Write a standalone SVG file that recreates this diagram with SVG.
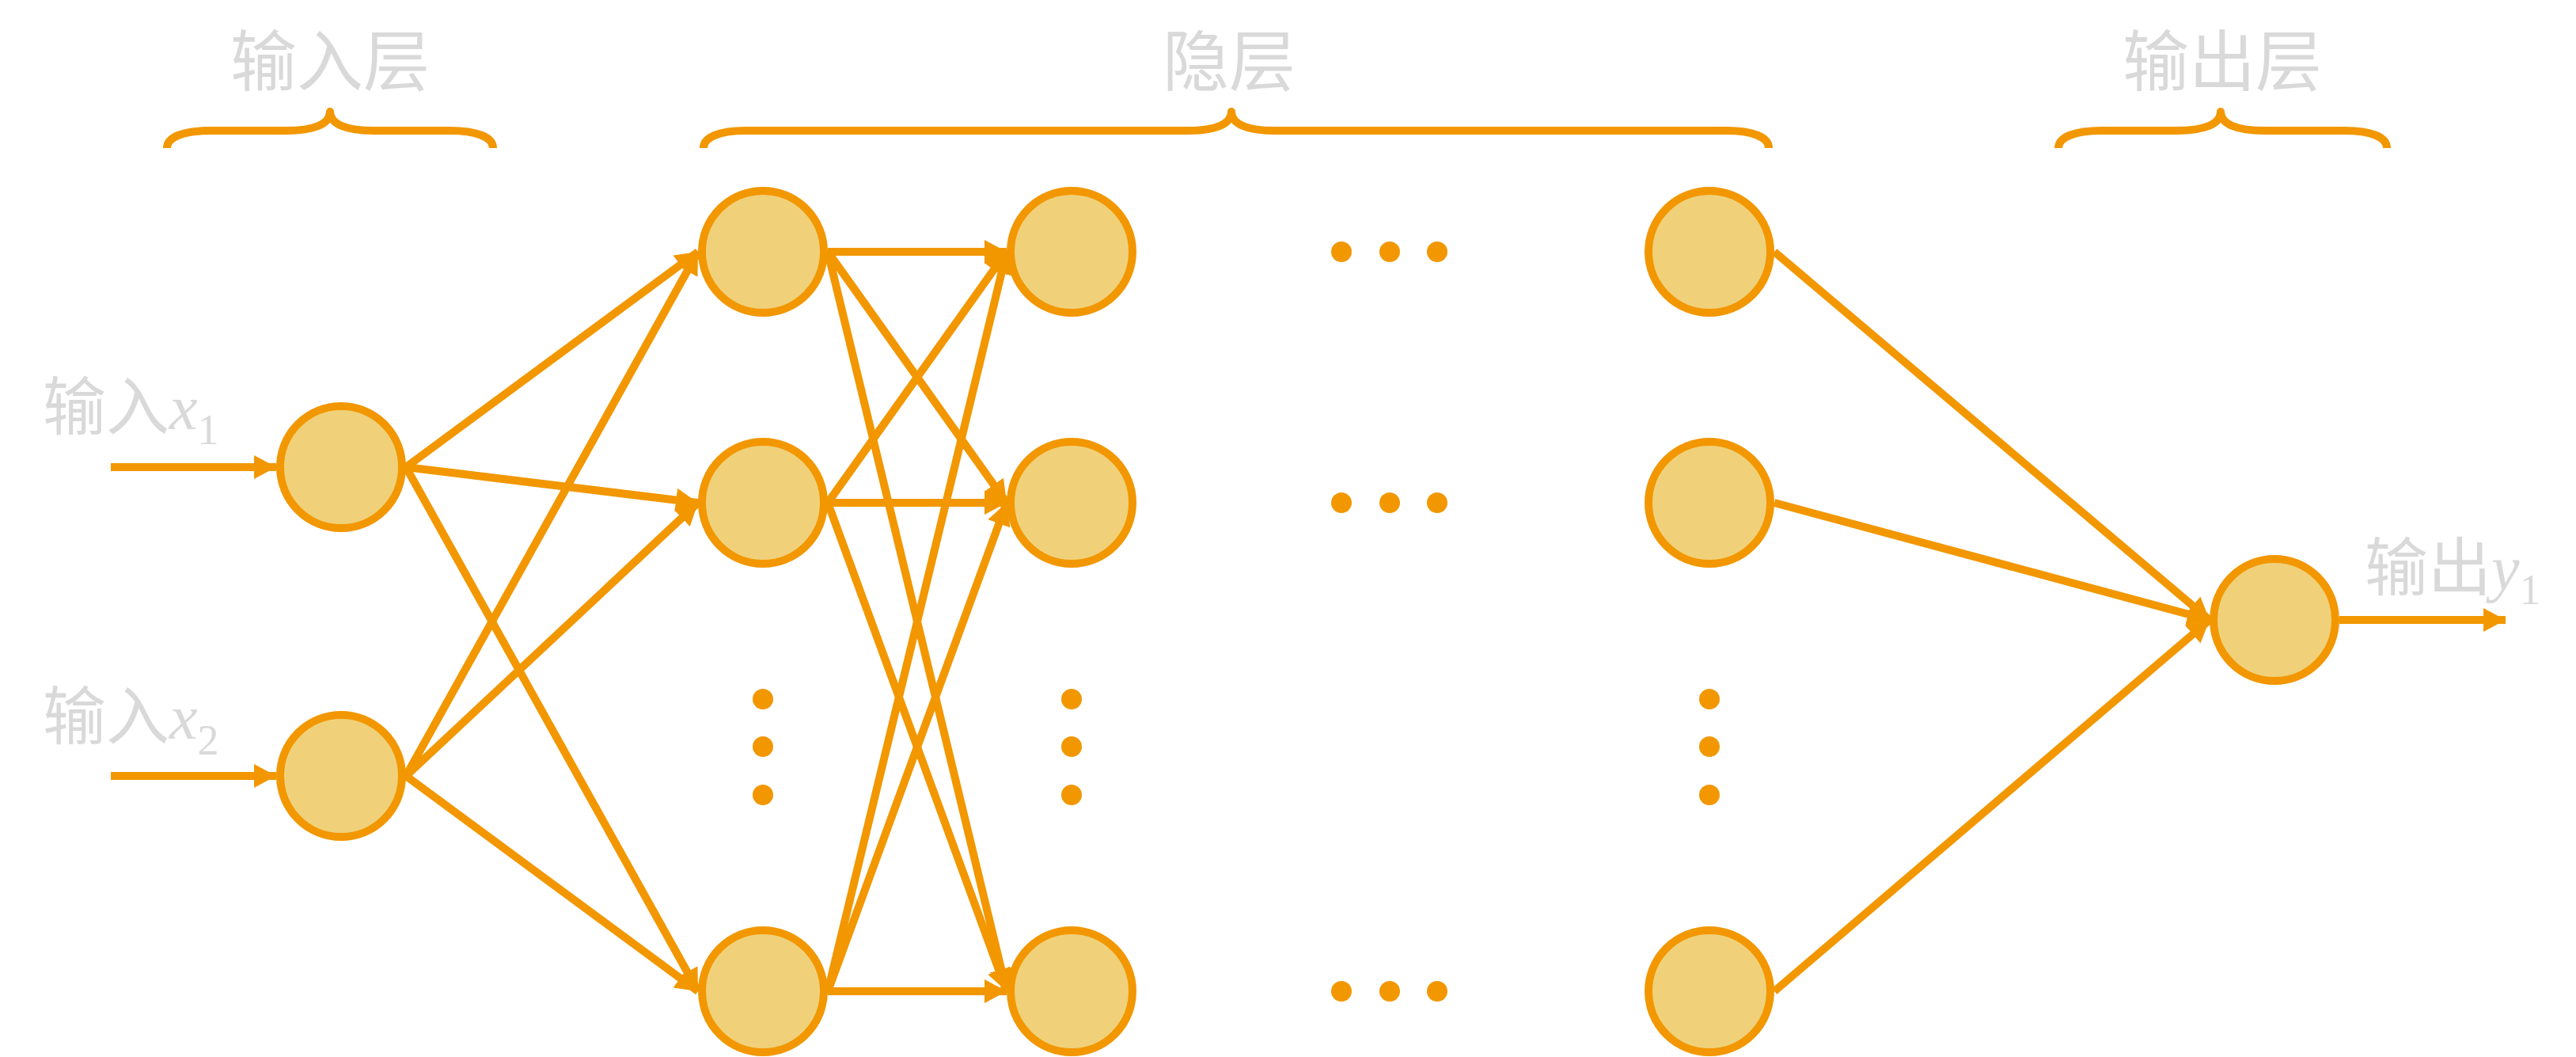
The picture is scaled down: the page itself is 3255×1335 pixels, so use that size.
<svg xmlns="http://www.w3.org/2000/svg" width="3255" height="1335" viewBox="0 0 3255 1335">
<style>
.node{fill:#F0D17A;stroke:#F29700;stroke-width:10}
.dot{fill:#F29700}
.edge{stroke:#F29700;stroke-width:10;fill:none;marker-end:url(#arr)}
.brace{stroke:#F29700;stroke-width:10;fill:none;stroke-linejoin:round}
.head{font-family:"Noto Sans CJK SC",sans-serif;font-size:84px;fill:#D9D9D9;text-anchor:middle}
.lbl{font-family:"Liberation Serif","Noto Sans CJK SC",serif;font-size:80px;fill:#D9D9D9}
.it{font-style:italic}
.sub{font-size:54px}
</style>
<defs>
<marker id="arr" markerUnits="userSpaceOnUse" viewBox="0 0 28 30" refX="28" refY="15" markerWidth="28" markerHeight="30" orient="auto">
<path d="M0,0 L28,15 L0,30 z" fill="#F29700"/>
</marker>
</defs>
<rect width="3255" height="1335" fill="#FFFFFF"/>

<g id="headers">
<text class="head" x="417" y="108">输入层</text>
<text class="head" x="1553" y="108">隐层</text>
<text class="head" x="2808" y="108">输出层</text>
</g>

<g id="braces">
<path class="brace" d="M211,187 C211,173 232,165 266,165 L362,165 C396,165 417,157 417,141 C417,157 438,165 472,165 L568,165 C602,165 623,173 623,187"/>
<path class="brace" d="M889,187 C889,173 910,165 942,165 L1502,165 C1535,165 1556,157 1556,141 C1556,157 1577,165 1609,165 L2182,165 C2214,165 2235,173 2235,187"/>
<path class="brace" d="M2601,187 C2601,173 2622,165 2656,165 L2750,165 C2785,165 2806,157 2806,141 C2806,157 2827,165 2861,165 L2962,165 C2996,165 3016,173 3016,187"/>
</g>

<g id="labels">
<text class="lbl" x="54" y="542">输入<tspan class="it">x</tspan><tspan class="sub" dy="19">1</tspan></text>
<text class="lbl" x="54" y="933">输入<tspan class="it">x</tspan><tspan class="sub" dy="20">2</tspan></text>
<text class="lbl" x="2988" y="745">输出<tspan class="it">y</tspan><tspan class="sub" dy="18">1</tspan></text>
</g>

<g id="input-x1"><circle class="node" cx="431" cy="590" r="77"/></g>
<g id="input-x2"><circle class="node" cx="431" cy="980" r="77"/></g>
<g id="h1-1"><circle class="node" cx="964" cy="318" r="77"/></g>
<g id="h1-2"><circle class="node" cx="964" cy="635" r="77"/></g>
<g id="h1-n"><circle class="node" cx="964" cy="1252" r="77"/></g>
<g id="h2-1"><circle class="node" cx="1354" cy="318" r="77"/></g>
<g id="h2-2"><circle class="node" cx="1354" cy="635" r="77"/></g>
<g id="h2-n"><circle class="node" cx="1354" cy="1252" r="77"/></g>
<g id="hk-1"><circle class="node" cx="2160" cy="318" r="77"/></g>
<g id="hk-2"><circle class="node" cx="2160" cy="635" r="77"/></g>
<g id="hk-n"><circle class="node" cx="2160" cy="1252" r="77"/></g>
<g id="output-y1"><circle class="node" cx="2874" cy="783" r="77"/></g>

<g id="ellipsis">
<circle class="dot" cx="1695" cy="318" r="13"/><circle class="dot" cx="1756" cy="318" r="13"/><circle class="dot" cx="1816" cy="318" r="13"/>
<circle class="dot" cx="1695" cy="635" r="13"/><circle class="dot" cx="1756" cy="635" r="13"/><circle class="dot" cx="1816" cy="635" r="13"/>
<circle class="dot" cx="1695" cy="1252" r="13"/><circle class="dot" cx="1756" cy="1252" r="13"/><circle class="dot" cx="1816" cy="1252" r="13"/>
<circle class="dot" cx="964" cy="883" r="13"/><circle class="dot" cx="964" cy="943" r="13"/><circle class="dot" cx="964" cy="1004" r="13"/>
<circle class="dot" cx="1354" cy="883" r="13"/><circle class="dot" cx="1354" cy="943" r="13"/><circle class="dot" cx="1354" cy="1004" r="13"/>
<circle class="dot" cx="2160" cy="883" r="13"/><circle class="dot" cx="2160" cy="943" r="13"/><circle class="dot" cx="2160" cy="1004" r="13"/>
</g>

<g id="connectors">
<line class="edge" x1="140" y1="590" x2="349" y2="590"/>
<line class="edge" x1="140" y1="980" x2="349" y2="980"/>

<line class="edge" x1="513" y1="590" x2="882" y2="318"/>
<line class="edge" x1="513" y1="590" x2="882" y2="635"/>
<line class="edge" x1="513" y1="590" x2="882" y2="1252"/>
<line class="edge" x1="513" y1="980" x2="882" y2="318"/>
<line class="edge" x1="513" y1="980" x2="882" y2="635"/>
<line class="edge" x1="513" y1="980" x2="882" y2="1252"/>

<line class="edge" x1="1046" y1="318" x2="1272" y2="318"/>
<line class="edge" x1="1046" y1="318" x2="1272" y2="635"/>
<line class="edge" x1="1046" y1="318" x2="1272" y2="1252"/>
<line class="edge" x1="1046" y1="635" x2="1272" y2="318"/>
<line class="edge" x1="1046" y1="635" x2="1272" y2="635"/>
<line class="edge" x1="1046" y1="635" x2="1272" y2="1252"/>
<line class="edge" x1="1046" y1="1252" x2="1272" y2="318"/>
<line class="edge" x1="1046" y1="1252" x2="1272" y2="635"/>
<line class="edge" x1="1046" y1="1252" x2="1272" y2="1252"/>

<line class="edge" x1="2242" y1="318" x2="2792" y2="783"/>
<line class="edge" x1="2242" y1="635" x2="2792" y2="783"/>
<line class="edge" x1="2242" y1="1252" x2="2792" y2="783"/>

<line class="edge" x1="2956" y1="783" x2="3166" y2="783"/>
</g>
</svg>
